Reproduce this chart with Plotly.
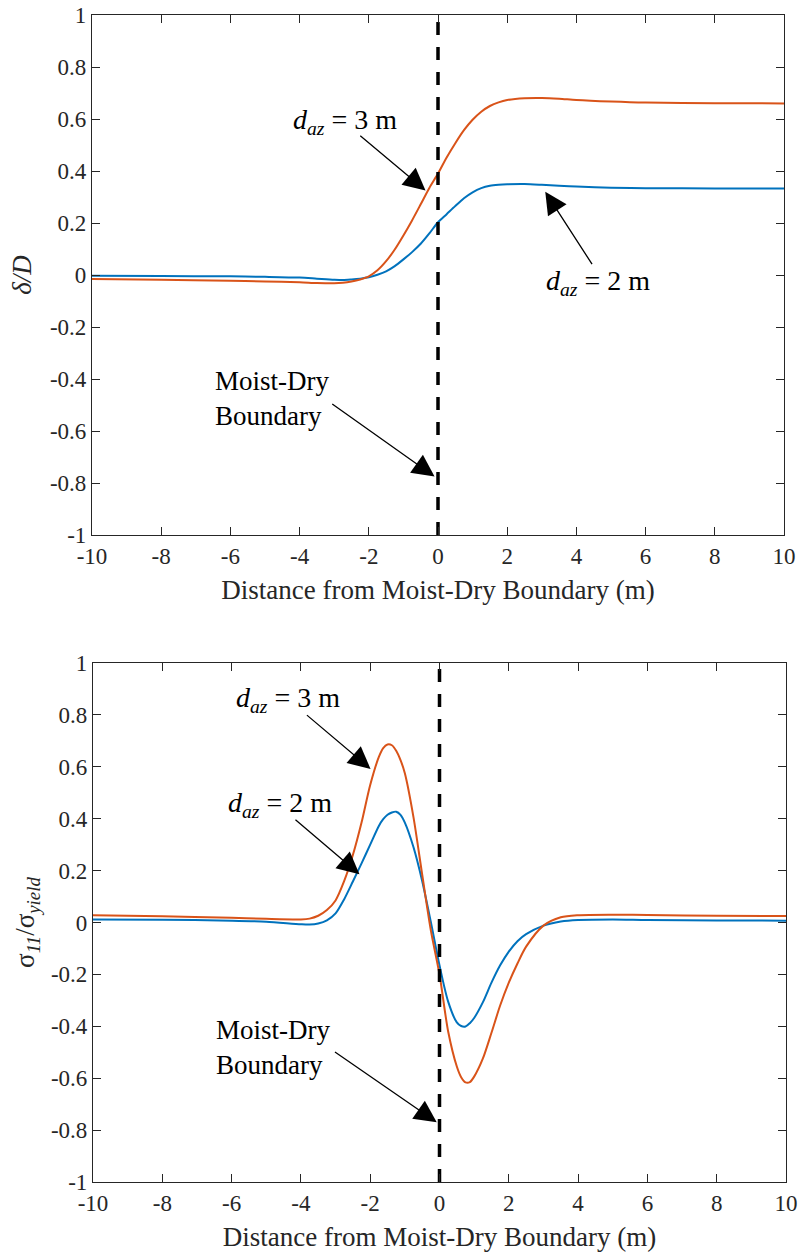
import plotly.graph_objects as go

# ---- data -------------------------------------------------------------
# deflection ratio delta/D along the pipe
x_defl = [-10, -8, -6, -5, -4, -3.5, -3, -2.75, -2.5, -2.25, -2, -1.75, -1.5,
          -1.25, -1, -0.75, -0.5, -0.25, 0, 0.25, 0.5, 0.75, 1, 1.25, 1.5,
          1.75, 2, 2.5, 3, 3.5, 4, 5, 6, 8, 10]
defl_daz2 = [-0.003, -0.004, -0.005, -0.007, -0.010, -0.014, -0.018, -0.019,
             -0.017, -0.014, -0.009, 0.001, 0.014, 0.034, 0.060, 0.088, 0.120,
             0.160, 0.203, 0.234, 0.265, 0.295, 0.318, 0.334, 0.343, 0.347,
             0.349, 0.350, 0.347, 0.343, 0.340, 0.336, 0.334, 0.333, 0.333]
defl_daz3 = [-0.015, -0.018, -0.022, -0.025, -0.028, -0.031, -0.032, -0.030,
             -0.025, -0.017, -0.005, 0.018, 0.053, 0.098, 0.152, 0.210, 0.272,
             0.335, 0.390, 0.452, 0.507, 0.557, 0.597, 0.628, 0.650, 0.664,
             0.673, 0.680, 0.681, 0.678, 0.673, 0.667, 0.663, 0.661, 0.660]

# axial stress ratio sigma_11/sigma_yield
x_stress = [-10, -8, -6, -5, -4, -3.75, -3.5, -3.25, -3, -2.75, -2.5, -2.25,
            -2, -1.75, -1.625, -1.5, -1.375, -1.25, -1.125, -1, -0.75, -0.5,
            -0.25, 0, 0.25, 0.5, 0.625, 0.75, 0.875, 1, 1.25, 1.5, 1.75, 2,
            2.25, 2.5, 3, 3.5, 4, 5, 6, 8, 10]
stress_daz2 = [0.012, 0.011, 0.007, 0.003, -0.007, -0.008, -0.004, 0.008,
               0.035, 0.090, 0.158, 0.228, 0.300, 0.372, 0.398, 0.415, 0.424,
               0.427, 0.415, 0.385, 0.290, 0.160, 0.002, -0.165, -0.305,
               -0.385, -0.399, -0.401, -0.388, -0.368, -0.308, -0.232, -0.165,
               -0.112, -0.072, -0.045, -0.012, 0.004, 0.010, 0.012, 0.010,
               0.008, 0.007]
stress_daz3 = [0.028, 0.024, 0.018, 0.014, 0.012, 0.015, 0.026, 0.048, 0.085,
               0.160, 0.260, 0.385, 0.530, 0.638, 0.672, 0.686, 0.683, 0.662,
               0.626, 0.575, 0.405, 0.185, -0.030, -0.200, -0.420, -0.555,
               -0.596, -0.616, -0.615, -0.594, -0.525, -0.425, -0.320, -0.232,
               -0.158, -0.093, -0.012, 0.020, 0.028, 0.030, 0.029, 0.026,
               0.025]

boundary_x = [0, 0]
boundary_y = [-1, 1]

x_ticks = [-10, -8, -6, -4, -2, 0, 2, 4, 6, 8, 10]
x_ticktext = ["-10", "-8", "-6", "-4", "-2", "0", "2", "4", "6", "8", "10"]
y_ticks = [-1, -0.8, -0.6, -0.4, -0.2, 0, 0.2, 0.4, 0.6, 0.8, 1]
y_ticktext = ["-1", "-0.8", "-0.6", "-0.4", "-0.2", "0", "0.2", "0.4",
              "0.6", "0.8", "1"]

# ---- styling ----------------------------------------------------------
BLUE = "#0072BD"
ORANGE = "#D95319"
AXC = "#262626"
FONT = "Liberation Serif"

fig = go.Figure()


def add_panel(xs, y2m, y3m, xa, ya):
    fig.add_trace(go.Scatter(x=xs, y=y2m, mode="lines", xaxis=xa, yaxis=ya,
                             line=dict(color=BLUE, width=2, shape="spline",
                                       smoothing=0.8),
                             showlegend=False))
    fig.add_trace(go.Scatter(x=xs, y=y3m, mode="lines", xaxis=xa, yaxis=ya,
                             line=dict(color=ORANGE, width=2, shape="spline",
                                       smoothing=0.8),
                             showlegend=False))
    fig.add_trace(go.Scatter(x=boundary_x, y=boundary_y, mode="lines",
                             xaxis=xa, yaxis=ya,
                             line=dict(color="black", width=3.5,
                                       dash="13px,12px"),
                             showlegend=False))


add_panel(x_defl, defl_daz2, defl_daz3, "x", "y")
add_panel(x_stress, stress_daz2, stress_daz3, "x2", "y2")

axis_common = dict(showline=True, linecolor=AXC, linewidth=1.2, mirror="ticks",
                   ticks="inside", ticklen=8, tickwidth=1.2, tickcolor=AXC,
                   showgrid=False, zeroline=False, automargin=False,
                   tickfont=dict(family=FONT, size=23, color=AXC))

xtitle = "Distance from Moist-Dry Boundary (m)"
title_font = dict(family=FONT, size=27, color=AXC)

fig.update_layout(
    width=801, height=1257,
    margin=dict(l=0, r=0, t=0, b=0),
    paper_bgcolor="white", plot_bgcolor="white",
    xaxis=dict(domain=[92 / 801, 784 / 801], range=[-10, 10], anchor="y",
               tickvals=x_ticks, ticktext=x_ticktext,
               title=dict(text=xtitle, standoff=12, font=title_font),
               **axis_common),
    yaxis=dict(domain=[722 / 1257, 1242 / 1257], range=[-1, 1], anchor="x",
               tickvals=y_ticks, ticktext=y_ticktext,
               title=dict(text="<i>δ/D</i>", standoff=10, font=title_font),
               **axis_common),
    xaxis2=dict(domain=[93 / 801, 786 / 801], range=[-10, 10], anchor="y2",
                tickvals=x_ticks, ticktext=x_ticktext,
                title=dict(text=xtitle, standoff=12, font=title_font),
                **axis_common),
    yaxis2=dict(domain=[75 / 1257, 594 / 1257], range=[-1, 1], anchor="x2",
                tickvals=y_ticks, ticktext=y_ticktext,
                title=dict(text="σ<sub><i>11</i></sub>/σ<sub><i>yield</i></sub>",
                           standoff=8, font=title_font),
                **axis_common),
)

md_font = dict(family=FONT, size=27, color="black")
daz_font = dict(family=FONT, size=28, color="black")
label_3m = "<i>d</i><sub><i>az</i></sub> = 3 m"
label_2m = "<i>d</i><sub><i>az</i></sub> = 2 m"
label_md = "Moist-Dry<br>Boundary"


def note(text, x, y, xa, ya, font):
    fig.add_annotation(text=text, x=x, y=y, xref=xa, yref=ya, showarrow=False,
                       xanchor="left", yanchor="middle", align="left",
                       font=font)


def arrow(x_tip, y_tip, x_tail, y_tail, xa, ya):
    fig.add_annotation(text="", x=x_tip, y=y_tip, ax=x_tail, ay=y_tail,
                       xref=xa, yref=ya, axref=xa, ayref=ya,
                       showarrow=True, arrowhead=2, arrowsize=3.4,
                       arrowwidth=1.3, arrowcolor="black", standoff=0)


# upper panel annotations
note(label_3m, -4.25, 0.59, "x", "y", daz_font)
arrow(-0.36, 0.325, -2.29, 0.54, "x", "y")
note(label_2m, 3.05, -0.03, "x", "y", daz_font)
arrow(3.1, 0.32, 4.48, 0.036, "x", "y")
note(label_md, -6.5, -0.475, "x", "y", md_font)
arrow(-0.1, -0.775, -3.1, -0.492, "x", "y")

# lower panel annotations
note(label_3m, -5.92, 0.86, "x2", "y2", daz_font)
arrow(-1.99, 0.592, -3.87, 0.804, "x2", "y2")
note(label_2m, -6.17, 0.455, "x2", "y2", daz_font)
arrow(-2.31, 0.186, -4.2, 0.401, "x2", "y2")
note(label_md, -6.5, -0.48, "x2", "y2", md_font)
arrow(-0.08, -0.77, -3.06, -0.495, "x2", "y2")

fig.write_html("out.html")
